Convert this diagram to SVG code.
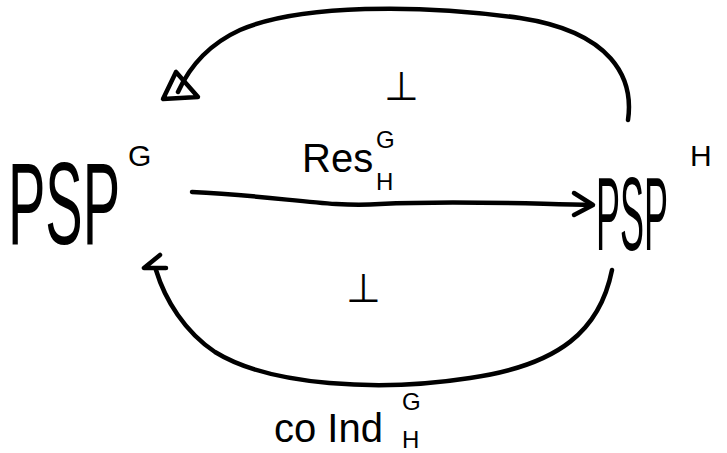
<svg xmlns="http://www.w3.org/2000/svg" width="727" height="453" viewBox="0 0 727 453">
  <style>
    .stroke { fill: none; stroke: #000; stroke-width: 4.5; stroke-linecap: round; stroke-linejoin: round; }
    .big { font-family: "Liberation Sans", sans-serif; fill: #000; }
    .sup { font-family: "Liberation Sans", sans-serif; font-size: 30px; fill: #000; }
    .lbl { font-family: "Liberation Sans", sans-serif; font-size: 40px; fill: #000; }
    .sm { font-family: "Liberation Sans", sans-serif; font-size: 24px; fill: #000; }
  </style>
  <rect width="727" height="453" fill="#fff"/>

  <!-- tall, narrow object names -->
  <g id="node-psp-g">
    <text class="big" font-size="56" transform="translate(8,244) scale(1,2.1)">PSP</text>
    <text class="sup" x="128" y="166">G</text>
  </g>

  <g id="node-psp-h">
    <text class="big" font-size="36" transform="translate(596,250) scale(1,2.9)">PSP</text>
    <text class="sup" x="690" y="166">H</text>
  </g>

  <g id="connectors">
    <!-- upper arc from PSP^H back to PSP^G -->
    <path class="stroke" d="M628,120 C634,78 612,32 520,18 C420,4 300,4 240,30 C205,46 188,70 178,92"/>
    <path class="stroke" d="M176,72 L163,99 L198,97 Z"/>
    <!-- Res arrow -->
    <path class="stroke" d="M192,192 C280,196 330,208 380,204 C460,200 530,204 592,205"/>
    <path class="stroke" d="M574,193 L593,205 L574,215"/>
    <!-- lower arc, coInd -->
    <path class="stroke" d="M612,270 C600,330 560,365 470,378 C380,392 270,386 215,352 C185,332 165,300 156,270"/>
    <path class="stroke" d="M160,255 L144,268 L166,268"/>
  </g>

  <g id="label-top-perp">
    <text class="lbl" x="384" y="100">⊥</text>
  </g>
  <g id="label-res">
    <text class="lbl" font-size="36" x="302" y="172">Res</text>
    <text class="sm" x="376" y="148">G</text>
    <text class="sm" x="376" y="190">H</text>
  </g>
  <g id="label-bottom-perp">
    <text class="lbl" x="346" y="302">⊥</text>
  </g>
  <g id="label-coind">
    <text class="lbl" font-size="44" x="274" y="442">co Ind</text>
    <text class="sm" x="402" y="410">G</text>
    <text class="sm" x="402" y="448">H</text>
  </g>
</svg>
